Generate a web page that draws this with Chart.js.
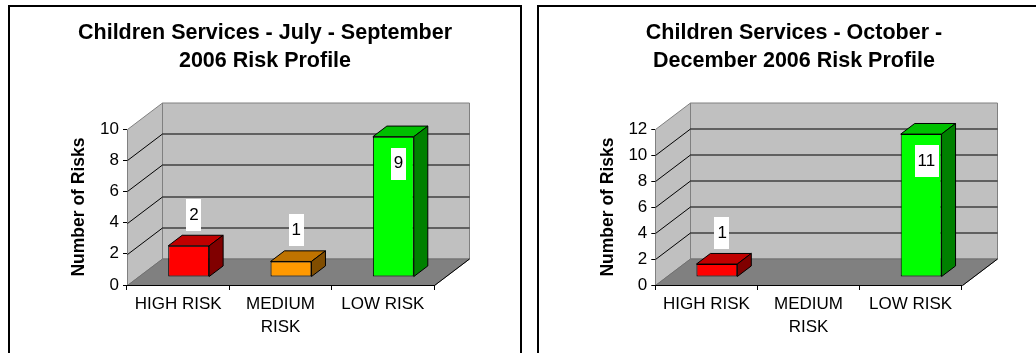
<!DOCTYPE html>
<html>
<head>
<meta charset="utf-8">
<script src="https://cdn.jsdelivr.net/npm/chart.js@4.4.1/dist/chart.umd.min.js"></script>
<style>
  html, body { margin: 0; padding: 0; background: #fff; overflow: hidden; }
  body { width: 1036px; height: 353px; position: relative; }
  .box { position: absolute; top: 5px; width: 510px; height: 360px; border: 2px solid #000; }
  #boxQ3 { left: 8px; }
  #boxQ4 { left: 537px; }
  canvas { display: block; }
</style>
</head>
<body>
<div class="box" id="boxQ3"><canvas id="chartQ3" width="510" height="360"></canvas></div>
<div class="box" id="boxQ4"><canvas id="chartQ4" width="510" height="360"></canvas></div>
<script>
// data
const categories = ['HIGH RISK', ['MEDIUM', 'RISK'], 'LOW RISK'];
const julSepValues = [2, 1, 9];
const octDecValues = [1, 0, 11];
const julSepTitle = ['Children Services - July - September', '2006 Risk Profile'];
const octDecTitle = ['Children Services - October -', 'December 2006 Risk Profile'];
const julSepMax = 10;
const octDecMax = 12;
const tickStep = 2;
const axisTitle = 'Number of Risks';

// bar colours: front / top / side face
const frontColors = ['#FF0000', '#FF9900', '#00FF00'];
const topColors = ['#C00000', '#BF7300', '#00C000'];
const sideColors = ['#800000', '#804D00', '#008000'];

Chart.defaults.font.family = '"Liberation Sans", Arial, sans-serif';
Chart.defaults.color = '#000';

// fake 3d depth of the plot (px)
const DX = 35, DY = -26.5;
const BAR_FRONT = 0.3;   // bars start 30% into the depth
const BAR_DEPTH = 0.4;

function poly(ctx, pts) {
  ctx.beginPath();
  ctx.moveTo(pts[0][0], pts[0][1]);
  for (let i = 1; i < pts.length; i++) ctx.lineTo(pts[i][0], pts[i][1]);
  ctx.closePath();
}

const box3d = {
  id: 'box3d',
  beforeDraw(chart) {
    const { ctx, chartArea: a } = chart;
    const y = chart.scales.y;
    const L = Math.round(a.left) + 0.5, R = Math.round(a.right) + 0.5;
    const T = Math.round(a.top) + 0.5, B = Math.round(a.bottom) + 0.5;
    ctx.save();
    ctx.lineWidth = 1;
    ctx.fillStyle = '#C0C0C0';
    ctx.strokeStyle = '#808080';
    // side wall
    poly(ctx, [[L, B], [L, T], [L + DX, T + DY], [L + DX, B + DY]]);
    ctx.fill(); ctx.stroke();
    // back wall
    poly(ctx, [[L + DX, T + DY], [R + DX, T + DY], [R + DX, B + DY], [L + DX, B + DY]]);
    ctx.fill(); ctx.stroke();
    // gridlines on both walls
    ctx.strokeStyle = '#000';
    y.ticks.forEach(t => {
      if (t.value <= y.min || t.value >= y.max) return;
      const py = Math.round(y.getPixelForValue(t.value)) + 0.5;
      ctx.beginPath();
      ctx.moveTo(L, py);
      ctx.lineTo(L + DX, py + DY);
      ctx.lineTo(R + DX, py + DY);
      ctx.stroke();
    });
    // floor
    ctx.fillStyle = '#808080';
    ctx.strokeStyle = '#707070';
    poly(ctx, [[L, B], [R, B], [R + DX, B + DY], [L + DX, B + DY]]);
    ctx.fill(); ctx.stroke();
    ctx.strokeStyle = '#000';
    ctx.beginPath();
    ctx.moveTo(R, B);
    ctx.lineTo(R + DX, B + DY);
    ctx.stroke();
    ctx.restore();
  },
  beforeDatasetsDraw(chart) {
    chart.ctx.save();
    chart.ctx.translate(DX * BAR_FRONT, DY * BAR_FRONT);
  },
  afterDatasetsDraw(chart) {
    const ctx = chart.ctx;
    ctx.restore();
    const ds = chart.data.datasets[0];
    const yMax = chart.scales.y.max;
    const ox = DX * BAR_FRONT, oy = DY * BAR_FRONT;
    const bx = DX * BAR_DEPTH, by = DY * BAR_DEPTH;
    ctx.save();
    ctx.lineWidth = 1;
    ctx.strokeStyle = '#000';
    chart.getDatasetMeta(0).data.forEach((bar, i) => {
      const v = ds.data[i];
      if (!v) return;
      const l = bar.x - bar.width / 2 + ox, r = bar.x + bar.width / 2 + ox;
      const t = bar.y + oy, b = bar.base + oy;
      ctx.fillStyle = topColors[i];
      poly(ctx, [[l, t], [r, t], [r + bx, t + by], [l + bx, t + by]]);
      ctx.fill(); ctx.stroke();
      ctx.fillStyle = sideColors[i];
      poly(ctx, [[r, t], [r + bx, t + by], [r + bx, b + by], [r, b]]);
      ctx.fill(); ctx.stroke();

      // value label in a white box
      const txt = String(v);
      ctx.font = '17px "Liberation Sans", Arial, sans-serif';
      const w = ctx.measureText(txt).width + 6, h = 32;
      const cx = bar.x + DX * 0.45;
      const yv = bar.y + DY * 0.45;
      const cy = v / yMax > 0.75 ? yv + 31 : yv - 27;
      ctx.fillStyle = '#fff';
      ctx.fillRect(Math.round(cx - w / 2), Math.round(cy - h / 2), Math.round(w), h);
      ctx.fillStyle = '#000';
      ctx.textAlign = 'center';
      ctx.textBaseline = 'middle';
      ctx.fillText(txt, cx, cy);
    });
    ctx.restore();
  }
};

function makeChart(id, title, values, yMax, plotLeft, plotRight) {
  return new Chart(document.getElementById(id), {
    type: 'bar',
    data: {
      labels: categories,
      datasets: [{
        data: values,
        backgroundColor: frontColors,
        borderColor: '#000',
        borderWidth: c => (c.raw ? 1 : 0),
        borderSkipped: false,
        barPercentage: 0.4,
        categoryPercentage: 1.0
      }]
    },
    options: {
      responsive: false,
      animation: false,
      devicePixelRatio: 1,
      layout: { padding: 0 },
      plugins: {
        legend: { display: false },
        tooltip: { enabled: false },
        title: {
          display: true,
          text: title,
          color: '#000',
          font: { size: 21.5, weight: 'bold', lineHeight: 1.28 },
          padding: { top: 12.7, bottom: 54.3 }
        }
      },
      scales: {
        x: {
          offset: true,
          grid: { drawOnChartArea: false, drawTicks: true, tickLength: 5, color: '#000', offset: true },
          border: { display: true, color: '#000', width: 1 },
          ticks: { color: '#000', font: { size: 17, lineHeight: 1.35 }, padding: 2.5, maxRotation: 0, autoSkip: false },
          afterFit: s => { s.height = 82; }
        },
        y: {
          min: 0,
          max: yMax,
          ticks: { stepSize: tickStep, color: '#000', font: { size: 17 }, padding: 4 },
          grid: { drawOnChartArea: false, tickLength: 4, color: '#000' },
          border: { display: false },
          title: {
            display: true,
            text: axisTitle,
            color: '#000',
            font: { size: 17.5, weight: 'bold', lineHeight: 1.2 },
            padding: { top: 59, bottom: 0 }
          },
          afterFit: s => { s.width = plotLeft; }
        },
        // empty right-hand axis: keeps room for the 3d back wall
        depth: {
          position: 'right',
          grid: { display: false },
          ticks: { display: false },
          border: { display: false },
          afterFit: s => { s.width = 510 - plotRight; }
        }
      }
    },
    plugins: [box3d]
  });
}

makeChart('chartQ3', julSepTitle, julSepValues, julSepMax, 117, 424);
makeChart('chartQ4', octDecTitle, octDecValues, octDecMax, 116.3, 422.7);
</script>
</body>
</html>
